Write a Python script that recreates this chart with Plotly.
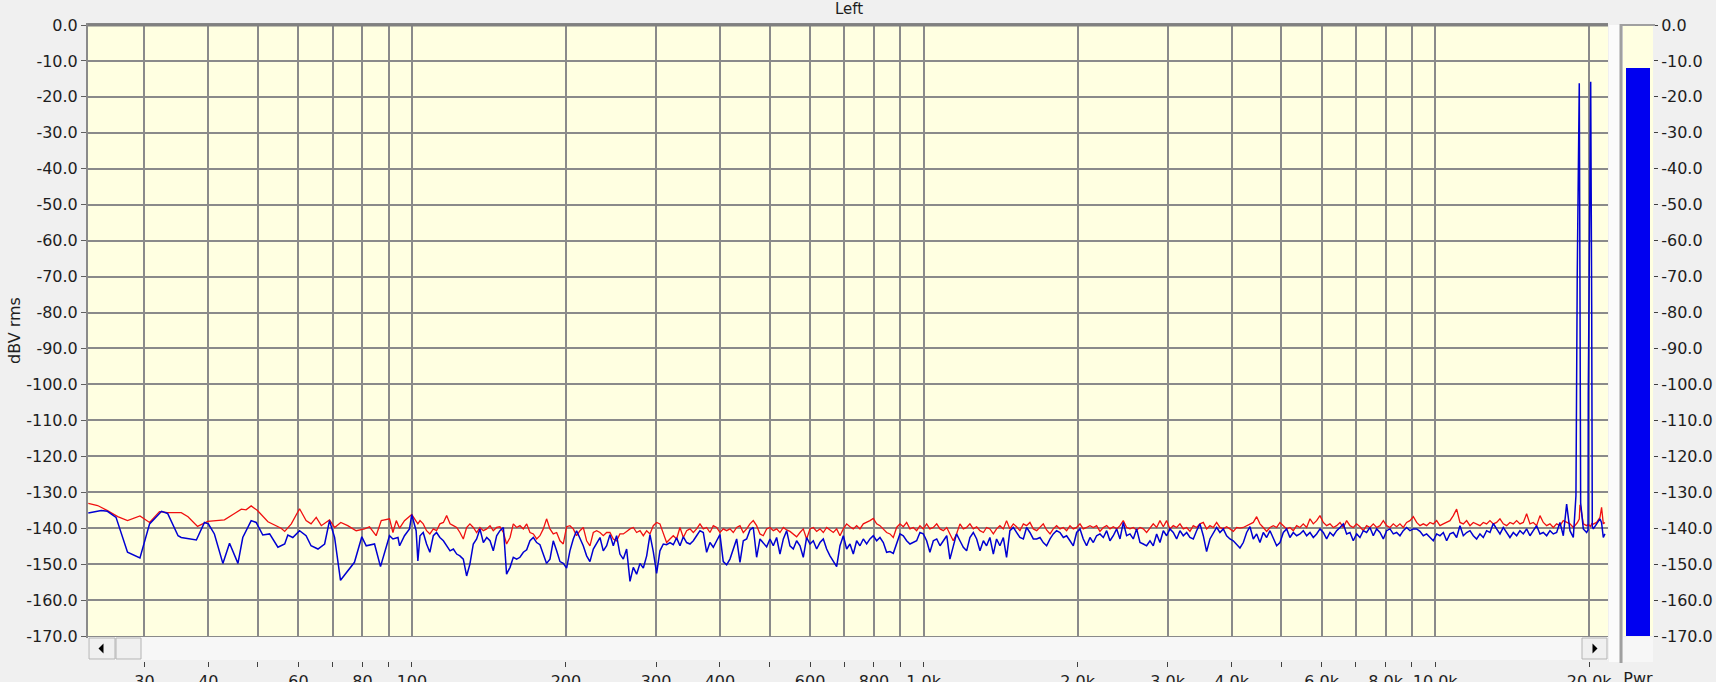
import math
import plotly.graph_objects as go

# spectrum (Hz, dBV rms)
LO_BLUE_FREQ = [23.3, 24.7, 25.4, 26.4, 27.8, 29.4, 30.7, 32.4, 33.3, 34.9,
                35.4, 37.9, 39.3, 40.0, 41.1, 42.7, 44.0, 45.7, 46.7, 48.5,
                49.6, 51.1, 52.7, 54.7, 56.4, 57.2, 58.5, 60.3, 62.1, 63.5,
                65.5, 67.5, 69.0, 70.6, 72.5, 74.9, 77.2, 79.8, 81.4, 84.5,
                86.8, 90.4, 91.8, 93.9, 94.6, 96.7, 98.9, 99.9, 101.9, 102.7]
LO_BLUE_DB = [-135.8, -135.1, -135.3, -137.0, -146.7, -148.3, -138.8, -135.3, -135.9, -142.1,
              -142.6, -143.3, -138.4, -138.8, -141.6, -149.8, -144.2, -149.8, -142.6, -137.9,
              -138.4, -141.9, -141.6, -145.3, -144.4, -141.9, -142.6, -140.7, -142.1, -144.9,
              -145.8, -144.4, -137.9, -142.6, -154.5, -151.9, -149.5, -142.4, -144.9, -144.4,
              -150.7, -142.1, -143.0, -142.6, -144.9, -142.1, -140.2, -136.2, -140.7, -149.1]

LO_RED_FREQ = [23.3, 24.3, 25.4, 26.6, 27.8, 29.4, 30.7, 32.1, 33.3, 35.4,
               36.5, 38.1, 39.9, 43.0, 45.0, 46.4, 47.4, 48.5, 49.9, 52.3,
               55.5, 56.4, 58.1, 60.3, 62.1, 63.5, 65.0, 66.5, 69.0, 70.6,
               72.6, 74.9, 77.8, 80.8, 82.6, 85.1, 87.1, 90.4, 91.8, 93.2,
               94.6, 96.7, 99.9, 102.7]
LO_RED_DB = [-133.1, -133.7, -135.1, -136.8, -137.9, -136.6, -138.4, -135.4, -135.7, -135.7,
             -136.8, -139.5, -138.1, -137.7, -135.9, -134.7, -134.9, -133.8, -135.1, -138.2,
             -140.0, -140.9, -138.8, -134.6, -137.9, -138.8, -137.0, -139.3, -137.7, -139.8,
             -138.4, -139.3, -140.7, -140.2, -139.6, -142.1, -137.9, -137.4, -141.2, -137.9,
             -140.0, -137.9, -136.2, -138.8]

HI_FREQ = [
    103.7, 105.2, 106.8, 108.4, 110.1, 111.7, 113.4, 115.2, 116.9, 118.7,
    120.5, 122.3, 124.1, 126.0, 127.9, 129.8, 131.8, 133.8, 135.8, 137.9,
    140.0, 142.1, 144.2, 146.4, 148.6, 150.9, 153.1, 155.5, 157.8, 160.2,
    162.6, 165.1, 167.6, 170.1, 172.7, 175.3, 177.9, 180.6, 183.3, 186.1,
    188.9, 191.8, 194.7, 197.6, 200.6, 203.6, 206.7, 209.8, 213.0, 216.2,
    219.5, 222.8, 226.2, 229.6, 233.1, 236.6, 240.2, 243.8, 247.5, 251.2,
    255.0, 258.9, 262.8, 266.8, 270.8, 274.9, 279.1, 283.3, 287.6, 291.9,
    296.3, 300.8, 305.3, 310.0, 314.6, 319.4, 324.2, 329.1, 334.1, 339.2,
    344.3, 349.5, 354.8, 360.1, 365.6, 371.1, 376.7, 382.4, 388.2, 394.1,
    400.0, 406.0, 412.2, 418.4, 424.7, 431.2, 437.7, 444.3, 451.0, 457.8,
    464.7, 471.8, 478.9, 486.1, 493.5, 501.0, 508.5, 516.2, 524.0, 532.0,
    540.0, 548.1, 556.4, 564.8, 573.4, 582.0, 590.8, 599.8, 608.8, 618.1,
    627.4, 636.9, 646.5, 656.3, 666.2, 676.3, 686.5, 696.9, 707.4, 718.1,
    728.9, 740.0, 751.1, 762.5, 774.0, 785.7, 797.6, 809.7, 821.9, 834.4,
    846.9, 859.7, 872.7, 885.9, 899.3, 912.9, 926.7, 940.7, 955.0, 969.4,
    984.0, 998.8, 1014, 1029, 1045, 1061, 1077, 1093, 1110, 1126,
    1143, 1160, 1178, 1196, 1214, 1232, 1251, 1270, 1289, 1309,
    1328, 1348, 1369, 1389, 1410, 1432, 1453, 1475, 1498, 1520,
    1543, 1567, 1590, 1614, 1639, 1664, 1689, 1714, 1740, 1767,
    1793, 1820, 1848, 1876, 1904, 1933, 1962, 1992, 2022, 2052,
    2083, 2115, 2147, 2179, 2212, 2246, 2280, 2314, 2349, 2385,
    2421, 2457, 2494, 2532, 2570, 2609, 2649, 2689, 2729, 2771,
    2812, 2855, 2898, 2942, 2986, 3031, 3077, 3124, 3171, 3219,
    3268, 3317, 3367, 3418, 3470, 3522, 3575, 3629, 3684, 3740,
    3796, 3854, 3912, 3971, 4031, 4092, 4154, 4217, 4281, 4345,
    4411, 4478, 4545, 4614, 4684, 4755, 4827, 4900, 4974, 5049,
    5125, 5202, 5281, 5361, 5442, 5524, 5608, 5693, 5779, 5866,
    5955, 6045, 6136, 6229, 6323, 6419, 6516, 6614, 6714, 6816,
    6918, 7023, 7129, 7237, 7346, 7457, 7570, 7685, 7801, 7919,
    8038, 8160, 8283, 8408, 8535, 8664, 8795, 8928, 9064, 9201,
    9339, 9481, 9624, 9769, 9917, 10067, 10219, 10374, 10531, 10690,
    10851, 11015, 11182, 11351, 11522, 11697, 11874, 12053, 12235, 12420,
    12607, 12798, 12991, 13188, 13387, 13589, 13795, 14003, 14215, 14430,
    14648, 14869, 15094, 15323, 15554, 15789, 16028, 16270, 16517, 16766,
    17019, 17276, 17537, 17803, 18072, 18345, 18623,
    18846, 18957, 19129, 19189, 19249, 19480, 19774, 19900, 19921, 20138,
    20183, 20229, 20283, 20377, 20685, 20998, 21150, 21315, 21470,
]
HI_BLUE_DB = [
    -142.1, -141.2, -144.4, -146.7, -142.1, -141.2, -142.6, -143.5, -144.9, -146.3,
    -145.8, -147.2, -147.7, -148.6, -153.3, -150.0, -144.4, -143.0, -140.2, -144.0,
    -142.6, -143.5, -146.3, -142.1, -140.7, -139.8, -152.8, -150.9, -148.1, -148.6,
    -148.1, -146.7, -146.0, -143.5, -142.6, -144.0, -144.6, -147.2, -149.8, -148.6,
    -143.5, -146.3, -149.3, -149.8, -151.1, -146.3, -143.0, -140.7, -142.6, -144.9,
    -147.7, -149.3, -145.8, -144.0, -142.6, -146.3, -144.9, -141.8, -144.9, -142.1,
    -147.2, -148.6, -145.8, -154.8, -150.9, -152.8, -149.8, -151.1, -147.7, -141.8,
    -146.5, -152.6, -146.3, -144.4, -144.6, -144.0, -144.6, -142.7, -144.9, -142.4,
    -144.0, -144.4, -143.5, -142.1, -140.7, -141.2, -146.7, -144.0, -145.3, -143.5,
    -141.8, -149.3, -150.2, -148.6, -145.8, -143.0, -149.5, -143.5, -143.0, -140.5,
    -139.8, -148.1, -143.0, -144.0, -145.2, -143.0, -144.9, -142.6, -147.2, -143.0,
    -140.7, -144.9, -145.8, -143.5, -144.9, -148.1, -142.6, -144.4, -143.5, -145.8,
    -144.0, -143.0, -145.8, -147.7, -149.3, -150.7, -144.9, -142.1, -145.8, -144.4,
    -147.2, -143.5, -144.9, -143.0, -144.4, -143.0, -142.1, -143.5, -142.6, -144.0,
    -146.7, -146.5, -147.0, -144.4, -141.6, -142.1, -143.5, -144.4, -144.0, -143.5,
    -141.2, -141.6, -143.5, -146.7, -143.5, -143.0, -144.9, -143.5, -142.1, -148.6,
    -144.9, -141.6, -143.5, -145.3, -146.3, -142.6, -141.2, -143.0, -146.3, -143.5,
    -144.9, -142.6, -147.2, -143.0, -144.9, -142.6, -148.1, -140.7, -139.8, -141.2,
    -142.6, -143.0, -139.8, -141.2, -143.0, -143.0, -142.6, -144.0, -144.9, -143.0,
    -141.6, -140.7, -141.2, -142.6, -142.1, -143.5, -144.9, -141.2, -140.2, -143.0,
    -144.9, -142.6, -144.0, -142.1, -141.6, -142.6, -140.7, -143.5, -142.1, -140.2,
    -143.0, -138.4, -142.1, -141.6, -143.0, -140.2, -144.0, -144.4, -144.9, -143.5,
    -144.9, -141.6, -144.0, -140.7, -142.1, -140.2, -141.2, -143.0, -140.7, -142.1,
    -141.2, -142.6, -143.0, -140.7, -138.8, -142.1, -146.5, -143.0, -141.4, -139.8,
    -141.2, -140.2, -142.1, -143.0, -143.5, -144.6, -145.5, -144.0, -141.2, -139.6,
    -143.0, -141.6, -144.0, -141.2, -142.6, -140.7, -143.0, -144.9, -144.0, -141.2,
    -140.2, -142.6, -141.2, -142.1, -141.6, -140.7, -142.1, -141.2, -142.6, -141.6,
    -140.2, -141.2, -143.0, -141.2, -142.1, -140.7, -139.8, -138.8, -141.6, -141.2,
    -143.5, -141.6, -142.6, -140.7, -141.2, -139.8, -142.1, -140.2, -141.2, -143.0,
    -140.7, -140.2, -141.6, -141.2, -142.1, -140.7, -139.8, -140.7, -140.2, -140.2,
    -140.9, -142.1, -141.6, -142.7, -143.5, -141.6, -142.1, -141.2, -143.5, -141.6,
    -141.2, -142.6, -139.3, -142.1, -141.2, -140.7, -142.1, -143.0, -141.6, -142.6,
    -140.7, -141.2, -138.7, -140.2, -141.6, -139.8, -141.2, -142.6, -141.2, -142.1,
    -140.7, -141.6, -140.2, -142.1, -140.7, -139.3, -141.6, -141.2, -142.1, -140.7,
    -141.6, -141.2, -138.4, -142.1, -133.3, -140.7, -142.6,
    -131.0, -69.0, -16.2, -71.8, -133.0, -140.2, -141.2, -140.5, -102.4, -15.8,
    -40.3, -78.0, -139.5, -140.2, -138.8, -137.4, -138.5, -142.6, -141.6,
]
HI_RED_DB = [
    -137.9, -138.8, -140.7, -141.6, -140.2, -140.7, -138.8, -138.4, -136.5, -138.8,
    -139.3, -139.8, -141.2, -143.0, -139.8, -138.8, -139.8, -141.2, -139.8, -140.7,
    -140.2, -139.3, -140.7, -139.8, -139.6, -141.2, -144.4, -142.6, -138.8, -139.8,
    -139.3, -140.2, -138.8, -141.2, -141.6, -143.0, -142.1, -140.2, -137.4, -140.2,
    -141.6, -141.2, -143.5, -144.4, -139.6, -139.3, -140.2, -142.1, -140.7, -139.8,
    -143.5, -144.9, -141.2, -140.7, -141.2, -142.1, -141.2, -141.2, -143.0, -143.5,
    -141.6, -141.6, -140.9, -140.2, -139.8, -141.2, -140.7, -142.1, -140.7, -141.6,
    -139.3, -138.4, -138.8, -141.2, -144.0, -143.0, -142.1, -143.0, -139.8, -142.6,
    -140.7, -140.2, -141.2, -140.2, -138.8, -140.2, -139.8, -141.2, -139.3, -139.8,
    -141.2, -140.2, -140.7, -140.2, -141.2, -139.8, -139.3, -141.2, -140.2, -138.8,
    -137.9, -139.3, -141.6, -142.1, -140.2, -139.8, -140.7, -140.2, -141.2, -139.8,
    -140.5, -140.9, -141.6, -142.4, -141.2, -140.2, -143.0, -140.2, -139.8, -140.9,
    -140.2, -141.2, -139.8, -140.5, -141.2, -140.2, -142.1, -140.2, -138.8, -139.6,
    -140.2, -139.3, -140.2, -138.8, -138.4, -137.9, -137.3, -138.8, -139.3, -140.2,
    -141.2, -141.6, -142.6, -139.8, -138.8, -139.6, -138.4, -140.2, -139.8, -140.7,
    -139.3, -140.2, -138.8, -140.2, -139.8, -138.8, -140.2, -140.7, -139.8, -141.6,
    -143.5, -141.6, -138.8, -140.2, -139.8, -138.8, -140.2, -139.6, -140.7, -141.2,
    -139.8, -140.2, -141.6, -140.2, -139.3, -140.2, -137.9, -140.2, -138.8, -139.6,
    -140.7, -138.8, -139.3, -138.4, -140.2, -140.7, -139.8, -138.8, -140.5, -141.6,
    -140.2, -139.3, -140.2, -139.8, -140.7, -139.3, -140.2, -139.8, -138.8, -140.2,
    -139.8, -139.3, -139.8, -139.3, -140.9, -139.8, -139.3, -140.2, -139.6, -140.2,
    -139.3, -137.9, -139.8, -140.2, -139.8, -140.5, -139.8, -140.2, -141.2, -139.8,
    -138.8, -139.8, -137.9, -139.6, -137.9, -140.2, -139.3, -139.8, -138.8, -140.2,
    -139.8, -140.9, -139.3, -139.8, -138.8, -138.4, -140.2, -139.3, -139.8, -138.4,
    -139.8, -140.2, -139.6, -140.2, -140.9, -139.8, -140.0, -139.8, -139.3, -138.8,
    -138.4, -136.8, -138.8, -139.8, -140.9, -139.8, -139.3, -139.8, -138.4, -139.3,
    -140.2, -139.8, -140.7, -139.3, -139.8, -138.8, -139.8, -137.4, -138.8, -137.9,
    -136.5, -138.4, -139.3, -138.8, -139.8, -139.3, -138.4, -139.8, -137.9, -139.3,
    -139.8, -138.8, -139.6, -140.7, -139.3, -139.8, -138.8, -139.8, -139.3, -137.9,
    -139.3, -139.8, -138.8, -139.6, -138.8, -139.8, -138.4, -137.9, -136.8, -138.4,
    -139.3, -138.8, -139.3, -138.4, -138.8, -137.9, -139.3, -138.8, -138.4, -137.9,
    -136.5, -134.7, -138.4, -138.8, -137.9, -139.3, -138.4, -138.8, -139.3, -138.4,
    -138.8, -137.9, -138.8, -138.4, -137.4, -138.8, -139.3, -138.4, -138.8, -137.9,
    -138.8, -138.4, -136.0, -138.8, -138.4, -139.3, -136.5, -138.4, -139.3, -138.8,
    -139.8, -138.8, -139.3, -137.9, -138.4, -138.8, -139.8,
    -139.0, -138.5, -137.5, -133.5, -134.0, -138.8, -139.3, -139.0, -139.0, -139.5,
    -139.0, -138.8, -139.0, -138.8, -138.4, -137.0, -134.2, -138.8, -138.4,
]

GRID_FREQS = [30, 40, 50, 60, 70, 80, 90, 100, 200, 300, 400, 500, 600, 700, 800, 900,
              1000, 2000, 3000, 4000, 5000, 6000, 7000, 8000, 9000, 10000, 20000]
X_LABELS = ["30", "40", "", "60", "", "80", "", "100", "200", "300", "400", "", "600", "", "800", "",
            "1.0k", "2.0k", "3.0k", "4.0k", "", "6.0k", "", "8.0k", "", "10.0k", "20.0k"]
Y_TICKS = [0, -10, -20, -30, -40, -50, -60, -70, -80, -90,
           -100, -110, -120, -130, -140, -150, -160, -170]
Y_LABELS = ["0.0", "-10.0", "-20.0", "-30.0", "-40.0", "-50.0", "-60.0", "-70.0", "-80.0", "-90.0",
            "-100.0", "-110.0", "-120.0", "-130.0", "-140.0", "-150.0", "-160.0", "-170.0"]
F_MIN, F_MAX = 23.27, 21770
DB_MIN, DB_MAX = -170, 0
PWR_LEVEL = -12.0

W, H = 1716, 682
ML, MR, MT, MB = 88, 63, 25, 10
GRID = "#8a8a8a"
FONT = dict(family="DejaVu Sans", size=16, color="#1e1e1e")


def px(x):
    return (x - ML) / (W - ML - MR)


def py(y):
    return (H - MB - y) / (H - MT - MB)


def box(x0, y0, x1, y1, fill, edge=None):
    line = dict(color=edge, width=1) if edge else dict(width=0)
    return dict(type="rect", xref="paper", yref="paper", x0=px(x0), x1=px(x1),
                y0=py(y1), y1=py(y0), fillcolor=fill, line=line, layer="above")


def seg(x0, y0, x1, y1, color, width):
    return dict(type="line", xref="paper", yref="paper", x0=px(x0), x1=px(x1),
                y0=py(y0), y1=py(y1), line=dict(color=color, width=width), layer="above")


def tri(points):
    path = "M " + " L ".join(f"{px(x)} {py(y)}" for x, y in points) + " Z"
    return dict(type="path", xref="paper", yref="paper", path=path,
                fillcolor="#000000", line=dict(width=0), layer="above")


xrange_log = [math.log10(F_MIN), math.log10(F_MAX)]

fig = go.Figure()
fig.add_trace(go.Scatter(x=LO_RED_FREQ + HI_FREQ, y=LO_RED_DB + HI_RED_DB, mode="lines",
                         line=dict(color="#f01010", width=1.3), hoverinfo="skip"))
fig.add_trace(go.Scatter(x=LO_BLUE_FREQ + HI_FREQ, y=LO_BLUE_DB + HI_BLUE_DB, mode="lines",
                         line=dict(color="#0000d2", width=1.5), hoverinfo="skip"))
# carrier for the tick-label axis under the scrollbar
fig.add_trace(go.Scatter(x=[GRID_FREQS[0]], y=[DB_MIN], xaxis="x2", yaxis="y", mode="markers",
                         marker=dict(opacity=0), hoverinfo="skip"))
# Pwr meter
fig.add_trace(go.Bar(x=[0], y=[PWR_LEVEL - DB_MIN], base=[DB_MIN], width=[0.77],
                     marker=dict(color="#0000f0", line=dict(width=0)),
                     xaxis="x3", yaxis="y2", hoverinfo="skip"))

shapes = [
    # scrollbar under the chart
    box(88, 637, 1608, 660, "#f7f7f7"),
    box(89, 638, 115, 659, "#f0f0f0", "#b4b4b4"),
    box(116, 638, 141, 659, "#f0f0f0", "#b4b4b4"),
    box(1582, 638, 1607, 659, "#f0f0f0", "#b4b4b4"),
    tri([(98.5, 648.5), (103.5, 643.5), (103.5, 653.5)]),
    tri([(1597.5, 648.5), (1592.5, 643.5), (1592.5, 653.5)]),
    # gap between chart and meter, meter frame
    box(1609, 25, 1620, 662, "#fbfbfb"),
    box(1623, 637, 1653, 662, "#f7f7f7"),
    seg(1621, 24, 1621, 663, "#a0a0a0", 3),
    seg(1621, 25, 1655, 25, "#a0a0a0", 2),
    # heavier top border of the chart
    seg(88, 25, 1608, 25, "#808080", 3),
]

fig.update_layout(
    width=W, height=H,
    margin=dict(l=ML, r=MR, t=MT, b=MB, pad=0),
    paper_bgcolor="#f0f0f0",
    plot_bgcolor="#ffffe1",
    showlegend=False,
    font=FONT,
    title=dict(text="Left", x=px(849), xref="paper", xanchor="center",
               y=1 - 8.5 / H, yref="container", yanchor="middle",
               font=dict(family="DejaVu Sans", size=15, color="#1e1e1e")),
    xaxis=dict(type="log", domain=[0, px(1608)], range=xrange_log,
               tickvals=GRID_FREQS, showticklabels=False, ticks="",
               showgrid=True, gridcolor=GRID, gridwidth=2,
               showline=True, linecolor=GRID, linewidth=2, mirror=True,
               zeroline=False, fixedrange=True, automargin=False),
    xaxis2=dict(type="log", overlaying="x", anchor="free", position=py(661),
                range=xrange_log, tickvals=GRID_FREQS, ticktext=X_LABELS,
                ticks="outside", ticklen=5, tickcolor="#404040", tickwidth=1,
                ticklabelstandoff=1,
                showgrid=False, showline=False, zeroline=False,
                tickfont=FONT, fixedrange=True, automargin=False),
    xaxis3=dict(domain=[px(1623), 1], range=[-0.5, 0.5], anchor="free", position=py(661),
                tickvals=[0], ticktext=["Pwr"], ticks="", ticklabelstandoff=6,
                showgrid=False, showline=False, zeroline=False, tickfont=FONT,
                fixedrange=True, automargin=False),
    yaxis=dict(domain=[py(636), 1], range=[DB_MIN, DB_MAX], anchor="x",
               tickvals=Y_TICKS, ticktext=Y_LABELS, ticks="outside", ticklen=5,
               tickcolor="#606060", tickwidth=1, tickfont=FONT,
               showgrid=True, gridcolor=GRID, gridwidth=2,
               showline=True, linecolor=GRID, linewidth=2,
               zeroline=False, fixedrange=True, automargin=False,
               title=dict(text="dBV rms", standoff=2, font=FONT)),
    yaxis2=dict(domain=[py(636), 1], range=[DB_MIN, DB_MAX], anchor="x3", side="right",
                tickvals=Y_TICKS, ticktext=Y_LABELS, ticks="outside", ticklen=4,
                tickcolor="#404040", tickwidth=1, tickfont=FONT,
                showgrid=False, showline=False, zeroline=False,
                fixedrange=True, automargin=False),
    shapes=shapes,
    bargap=0,
)

# the page's default body margin would shift the figure off the window origin
fig.write_html("out.html", config={"displayModeBar": False},
               post_script="document.body.style.margin='0';document.body.style.overflow='hidden';")
